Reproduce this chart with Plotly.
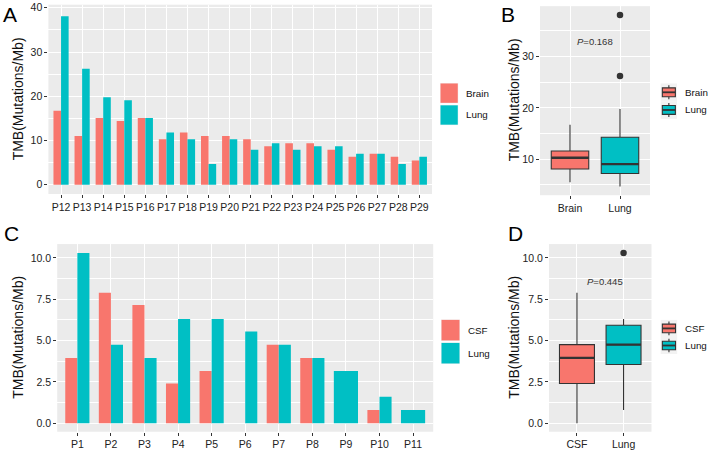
import numpy as np
import plotly.graph_objects as go

# data ---------------------------------------------------------------------
patients_a = ["P12", "P13", "P14", "P15", "P16", "P17", "P18", "P19", "P20",
              "P21", "P22", "P23", "P24", "P25", "P26", "P27", "P28", "P29"]
brain_tmb = [16.7, 11.0, 15.1, 14.4, 15.1, 10.3, 11.8, 11.0, 11.0,
             10.3, 8.7, 9.4, 9.4, 7.9, 6.3, 7.0, 6.3, 5.5]
lung_a_tmb = [38.1, 26.2, 19.8, 19.1, 15.1, 11.8, 10.3, 4.7, 10.3,
              7.9, 9.4, 7.9, 8.7, 8.7, 7.0, 7.0, 4.7, 6.3]

patients_c = ["P1", "P2", "P3", "P4", "P5", "P6", "P7", "P8", "P9", "P10", "P11"]
csf_tmb = [3.95, 7.9, 7.15, 2.4, 3.15, 0.0, 4.75, 3.95, None, 0.8, None]
lung_c_tmb = [10.3, 4.75, 3.95, 6.3, 6.3, 5.55, 4.75, 3.95, 3.15, 1.6, 0.8]

p_text_b = "<i>P</i>=0.168"
p_text_d = "<i>P</i>=0.445"

RED = "#F8766D"
TEAL = "#00BFC4"
DARK = "#333333"
FONT = "Liberation Sans, Arial, sans-serif"
W, H = 708, 450
BAR_W = 0.72


def px(x):
    return x / W


def py(y):
    return 1 - y / H


fig = go.Figure()


def dodge_bars(cats, left, right, xa, ya):
    # ggplot-like dodge: a lone bar takes the full width
    lo, lw, ro, rw = [], [], [], []
    for l in left:
        lo.append(-BAR_W / 2)
        lw.append(BAR_W / 2)
        if l is None:
            ro.append(-BAR_W / 2)
            rw.append(BAR_W)
        else:
            ro.append(0)
            rw.append(BAR_W / 2)
    fig.add_trace(go.Bar(x=cats, y=left, offset=lo, width=lw, marker_color=RED,
                         marker_line_width=0, showlegend=False, xaxis=xa, yaxis=ya))
    fig.add_trace(go.Bar(x=cats, y=right, offset=ro, width=rw, marker_color=TEAL,
                         marker_line_width=0, showlegend=False, xaxis=xa, yaxis=ya))


def boxes(groups, xa, ya):
    # ggplot stats: type-7 quartiles, whiskers to last point within 1.5 IQR
    for i, (name, vals, col) in enumerate(groups):
        v = np.array([x for x in vals if x is not None])
        q1, med, q3 = np.percentile(v, [25, 50, 75])
        iqr = q3 - q1
        inside = v[(v >= q1 - 1.5 * iqr) & (v <= q3 + 1.5 * iqr)]
        out = v[(v < q1 - 1.5 * iqr) | (v > q3 + 1.5 * iqr)]
        fig.add_trace(go.Box(x=[name], q1=[q1], median=[med], q3=[q3],
                             lowerfence=[inside.min()], upperfence=[inside.max()],
                             fillcolor=col, width=0.75, whiskerwidth=0,
                             line=dict(color=DARK, width=1.1),
                             showlegend=False, xaxis=xa, yaxis=ya))
        if len(out):
            fig.add_trace(go.Scatter(x=[name] * len(out), y=out, mode="markers",
                                     marker=dict(color=DARK, size=6.5),
                                     showlegend=False, xaxis=xa, yaxis=ya))
        fig.add_shape(type="line", xref=xa, yref=ya, x0=i - 0.375, x1=i + 0.375,
                      y0=med, y1=med, line=dict(color=DARK, width=2.4))


dodge_bars(patients_a, brain_tmb, lung_a_tmb, "x", "y")
boxes([("Brain", brain_tmb, RED), ("Lung", lung_a_tmb, TEAL)], "x2", "y2")
dodge_bars(patients_c, csf_tmb, lung_c_tmb, "x3", "y3")
boxes([("CSF", csf_tmb, RED), ("Lung", lung_c_tmb, TEAL)], "x4", "y4")

tickfont = dict(family=FONT, size=10.5, color="#222222")
axis_common = dict(showgrid=True, gridcolor="white", gridwidth=1.1, zeroline=False,
                   ticks="outside", ticklen=3, tickcolor=DARK, tickwidth=1,
                   tickfont=tickfont, showline=False, fixedrange=True,
                   ticklabeloverflow="allow")


def xaxis(dom, n, anchor):
    return dict(axis_common, domain=[px(dom[0]), px(dom[1])], type="category",
                range=[-0.6, n - 1 + 0.6], anchor=anchor)


def yaxis(dom, rng, dtick, fmt, anchor):
    return dict(axis_common, domain=[py(dom[1]), py(dom[0])], range=rng, dtick=dtick,
                tick0=0, tickformat=fmt, anchor=anchor,
                minor=dict(showgrid=True, gridcolor="white", gridwidth=0.5,
                           dtick=dtick / 2, tick0=0))


fig.update_layout(
    width=W, height=H, margin=dict(l=0, r=0, t=0, b=0),
    paper_bgcolor="white", plot_bgcolor="#EBEBEB", barmode="overlay", boxmode="overlay",
    font=dict(family=FONT, color="#222222"),
    xaxis=xaxis((48.4, 432), len(patients_a), "y"),
    yaxis=yaxis((1.7, 192.3), [-2.1, 40.7], 10, "d", "x"),
    xaxis2=xaxis((540, 650), 2, "y2"),
    yaxis2=yaxis((3.2, 193.5), [3.0, 39.8], 10, "d", "x2"),
    xaxis3=xaxis((57.2, 433.2), len(patients_c), "y3"),
    yaxis3=yaxis((242.7, 431.6), [-0.52, 10.84], 2.5, ".1f", "x3"),
    xaxis4=xaxis((549, 651.5), 2, "y4"),
    yaxis4=yaxis((242.7, 431.6), [-0.52, 10.84], 2.5, ".1f", "x4"),
)

# p-values
fig.add_annotation(x=0.5, y=32.9, xref="x2", yref="y2", text=p_text_b, showarrow=False,
                   font=dict(family=FONT, size=9.5, color=DARK))
fig.add_annotation(x=0.6, y=8.58, xref="x4", yref="y4", text=p_text_d, showarrow=False,
                   font=dict(family=FONT, size=9.5, color=DARK))

# panel letters and y titles
for letter, x, y in [("A", 10, 12), ("B", 508, 12), ("C", 11, 232), ("D", 515, 232)]:
    fig.add_annotation(x=px(x), y=py(y), xref="paper", yref="paper", text=letter,
                       xanchor="center", yanchor="middle", showarrow=False,
                       font=dict(family=FONT, size=21, color="black"))
for x, y in [(18, 97), (514, 98), (18, 337), (514, 337)]:
    fig.add_annotation(x=px(x), y=py(y), xref="paper", yref="paper",
                       text="TMB(Mutations/Mb)", textangle=-90, showarrow=False,
                       xanchor="center", yanchor="middle",
                       font=dict(family=FONT, size=14, color="#111111"))


# hand-drawn legends (ggplot style keys) -----------------------------------
def rect(x0, y0, x1, y1, fill, line=None):
    fig.add_shape(type="rect", xref="paper", yref="paper", x0=px(x0), x1=px(x1),
                  y0=py(y1), y1=py(y0), fillcolor=fill,
                  line=dict(width=0) if line is None else line, layer="above")


def seg(x0, y0, x1, y1, width=1.1):
    fig.add_shape(type="line", xref="paper", yref="paper", x0=px(x0), x1=px(x1),
                  y0=py(y0), y1=py(y1), line=dict(color=DARK, width=width))


def label(x, y, text):
    fig.add_annotation(x=px(x), y=py(y), xref="paper", yref="paper", text=text,
                       showarrow=False, xanchor="left", yanchor="middle", borderpad=0,
                       font=dict(family=FONT, size=9.8, color="#111111"))


def bar_legend(x0, y0, kw, kh, names):
    for i, (name, col) in enumerate(names):
        top = y0 + i * (kh + 1.5)
        rect(x0, top, x0 + kw, top + kh, "#F2F2F2")
        rect(x0 + 0.5, top + 0.5, x0 + kw - 0.5, top + kh - 0.5, col)
        label(x0 + kw + 7, top + kh / 2, name)


def box_legend(x0, y0, kw, kh, names):
    for i, (name, col) in enumerate(names):
        top = y0 + i * kh
        rect(x0, top, x0 + kw, top + kh, "#F2F2F2")
        cx = x0 + kw / 2
        seg(cx, top + kh * 0.1, cx, top + kh * 0.25)
        seg(cx, top + kh * 0.75, cx, top + kh * 0.9)
        rect(x0 + kw * 0.1, top + kh * 0.25, x0 + kw * 0.9, top + kh * 0.75, col,
             line=dict(color=DARK, width=1.1))
        seg(x0 + kw * 0.1, top + kh / 2, x0 + kw * 0.9, top + kh / 2, width=1.8)
        label(x0 + kw + 6.5, top + kh / 2, name)


bar_legend(440, 80.5, 18.3, 20.5, [("Brain", RED), ("Lung", TEAL)])
box_legend(660.7, 81, 16.3, 17.8, [("Brain", RED), ("Lung", TEAL)])
bar_legend(441, 318.5, 19, 21.7, [("CSF", RED), ("Lung", TEAL)])
box_legend(660.7, 319, 16.5, 17.2, [("CSF", RED), ("Lung", TEAL)])

# the page's default 8px body margin would shift the figure off the window
fig.write_html("out.html", config={"displayModeBar": False},
               post_script="document.body.style.margin='0px';")
